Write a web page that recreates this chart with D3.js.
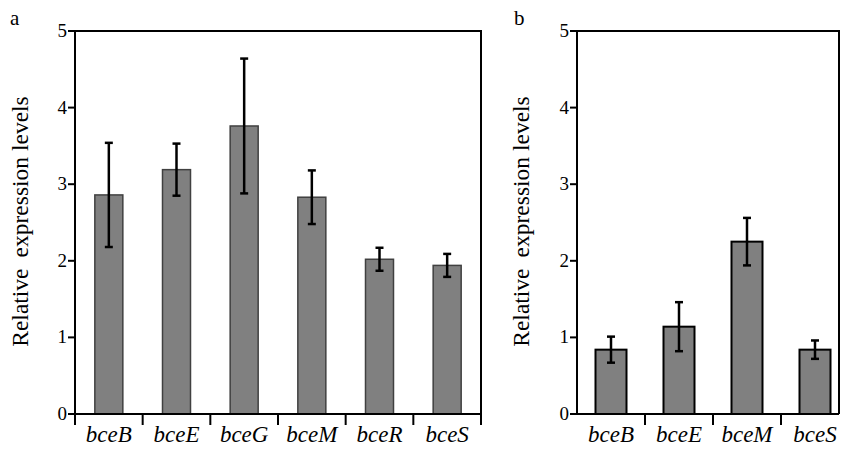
<!DOCTYPE html>
<html>
<head>
  <title>Relative expression levels</title>
  <script src="https://d3js.org/d3.v7.min.js"></script>
  <style>
    body { margin: 0; background: #fff; }
    svg text { font-family: "Liberation Serif", "Times New Roman", serif; fill: #000; }
  </style>
</head>
<body>
  <div id="chart"></div>
  <script>
    // panel a
    const genesA = ["bceB", "bceE", "bceG", "bceM", "bceR", "bceS"];
    const meansA = [2.86, 3.19, 3.76, 2.83, 2.02, 1.94];
    const errsA  = [0.68, 0.34, 0.88, 0.35, 0.15, 0.15];

    // panel b
    const genesB = ["bceB", "bceE", "bceM", "bceS"];
    const meansB = [0.84, 1.14, 2.25, 0.84];
    const errsB  = [0.17, 0.32, 0.31, 0.12];

    const yTicks = [0, 1, 2, 3, 4, 5];

    const svg = d3.select("#chart").append("svg")
      .attr("width", 844)
      .attr("height", 454);

    function drawPanel(p) {
      const g = svg.append("g");
      const y = d3.scaleLinear().domain([0, 5]).range([414, 31]);
      const x = d3.scaleBand().domain(p.genes).range(p.xRange).padding(0);
      const step = x.step();
      const data = p.genes.map((d, i) => ({ gene: d, mean: p.means[i], err: p.errs[i] }));

      // bars
      g.selectAll(".bar")
        .data(data)
        .enter().append("rect")
        .attr("x", d => x(d.gene) + step / 2 - p.barW / 2)
        .attr("y", d => y(d.mean))
        .attr("width", p.barW)
        .attr("height", d => y(0) - y(d.mean))
        .attr("fill", "#808080")
        .attr("stroke", p.barStroke)
        .attr("stroke-width", p.barStrokeW);

      // error bars
      const eb = g.selectAll(".err").data(data).enter().append("g");
      eb.append("line")
        .attr("x1", d => x(d.gene) + step / 2).attr("x2", d => x(d.gene) + step / 2)
        .attr("y1", d => y(d.mean + d.err)).attr("y2", d => y(d.mean - d.err))
        .attr("stroke", "#000").attr("stroke-width", 2.5);
      [1, -1].forEach(s => {
        eb.append("line")
          .attr("x1", d => x(d.gene) + step / 2 - 4).attr("x2", d => x(d.gene) + step / 2 + 4)
          .attr("y1", d => y(d.mean + s * d.err)).attr("y2", d => y(d.mean + s * d.err))
          .attr("stroke", "#000").attr("stroke-width", 2.5);
      });

      // frame: left axis, top, right
      const x0 = p.xRange[0];
      const yb = p.leftDown ? 425 : y(0);
      g.append("path")
        .attr("d", `M${x0},${yb}V${y(5)}H${p.right}V${yb}`)
        .attr("fill", "none").attr("stroke", "#000").attr("stroke-width", 2);
      // bottom axis
      g.append("line")
        .attr("x1", x0 - 7).attr("x2", p.right)
        .attr("y1", y(0)).attr("y2", y(0))
        .attr("stroke", "#000").attr("stroke-width", 2);

      // x ticks at band boundaries
      g.selectAll(".xt")
        .data(p.xTickIdx)
        .enter().append("line")
        .attr("x1", i => x0 + i * step).attr("x2", i => x0 + i * step)
        .attr("y1", y(0)).attr("y2", 425)
        .attr("stroke", "#000").attr("stroke-width", 2);

      // y axis ticks
      g.selectAll(".yt")
        .data(yTicks)
        .enter().append("line")
        .attr("x1", x0 - 7).attr("x2", x0)
        .attr("y1", d => y(d)).attr("y2", d => y(d))
        .attr("stroke", "#000").attr("stroke-width", 2);
      g.selectAll(".yl")
        .data(yTicks)
        .enter().append("text")
        .attr("x", x0 - 8)
        .attr("y", d => y(d) + 6)
        .attr("text-anchor", "end")
        .attr("font-size", 19)
        .text(d => d);

      // gene labels
      g.selectAll(".gl")
        .data(p.genes)
        .enter().append("text")
        .attr("x", d => x(d) + step / 2)
        .attr("y", 442)
        .attr("text-anchor", "middle")
        .attr("font-size", 23)
        .attr("font-style", "italic")
        .text(d => d);

      // y title (wide gap after "Relative", as in the original)
      const t = g.append("text")
        .attr("transform", `translate(${p.titleX},${(88 + 355) / 2}) rotate(-90)`)
        .attr("text-anchor", "middle")
        .attr("font-size", 23.5);
      t.append("tspan").text("Relative");
      t.append("tspan").attr("dx", 11).text("expression levels");

      // panel letter
      g.append("text")
        .attr("x", p.letterX).attr("y", 25)
        .attr("font-size", 21)
        .text(p.letter);
    }

    drawPanel({
      genes: genesA, means: meansA, errs: errsA,
      xRange: [75, 481], right: 481, barW: 28,
      barStroke: "#404040", barStrokeW: 1.5,
      leftDown: true, xTickIdx: [0, 1, 2, 3, 4, 5, 6],
      titleX: 28, letter: "a", letterX: 10
    });

    drawPanel({
      genes: genesB, means: meansB, errs: errsB,
      xRange: [577, 849], right: 839, barW: 31,
      barStroke: "#000", barStrokeW: 2,
      leftDown: false, xTickIdx: [1, 2, 3],
      titleX: 529, letter: "b", letterX: 514
    });
  </script>
</body>
</html>
